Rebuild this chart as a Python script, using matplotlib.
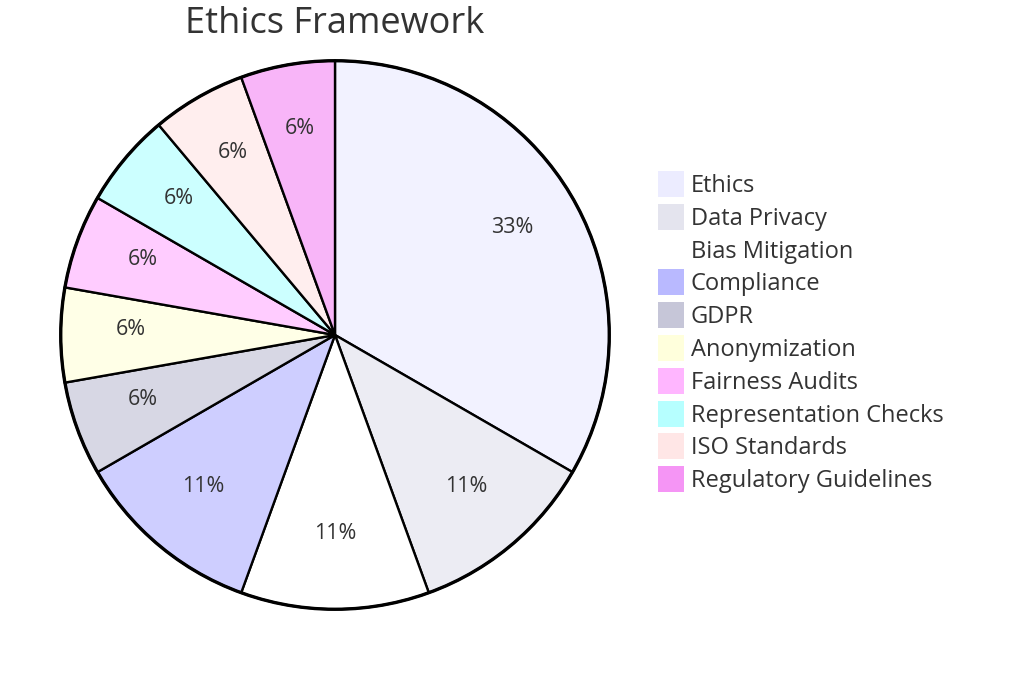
import matplotlib
matplotlib.use("Agg")
import matplotlib.pyplot as plt
from matplotlib.colors import to_rgb
from matplotlib.patches import Rectangle

plt.rcParams["font.family"] = ["Open Sans", "DejaVu Sans"]

# ================= DATA =================
title = "Ethics Framework"
labels = ["Ethics", "Data Privacy", "Bias Mitigation", "Compliance", "GDPR",
          "Anonymization", "Fairness Audits", "Representation Checks",
          "ISO Standards", "Regulatory Guidelines"]
values = [6, 2, 2, 2, 1, 1, 1, 1, 1, 1]
colors = ["#ECECFF", "#E4E4EE", "#FFFFFF", "#B9B9FF", "#C6C6D8",
          "#FFFFDC", "#FFB6FF", "#B6FFFF", "#FFE6E6", "#F595F5"]

# slices are drawn at 0.7 opacity over white
def soften(c, a=0.7):
    r, g, b = to_rgb(c)
    return (1 - a + a * r, 1 - a + a * g, 1 - a + a * b)

slice_colors = [soften(c) for c in colors]

# ================= FIGURE =================
fig = plt.figure(figsize=(10.24, 6.73), dpi=100)
ax = fig.add_axes([58 / 1024, (673 - 612) / 673, 554 / 1024, 554 / 673])

wedges, texts, autotexts = ax.pie(
    values, colors=slice_colors, startangle=90, counterclock=False,
    autopct=lambda p: f"{p:.0f}%", pctdistance=0.745, radius=1,
    wedgeprops=dict(edgecolor="black", linewidth=1.7),
    textprops=dict(fontsize=15.5, color="#333333"),
)
for t in autotexts:
    t.set_va("baseline")
# outer rim
ax.add_patch(plt.Circle((0, 0), 1, fill=False, edgecolor="black", linewidth=2.4))
ax.set_xlim(-1.01, 1.01)
ax.set_ylim(-1.01, 1.01)
ax.set_aspect("equal")
ax.axis("off")

fig.text(335 / 1024, 1 - 24 / 673, title, ha="center", va="center",
         fontsize=26, color="#333333")

# ================= LEGEND =================
x0, y0, step, box = 658, 184, 32.8, 26
for i, (lab, col) in enumerate(zip(labels, colors)):
    yc = y0 + i * step
    fig.patches.append(Rectangle(
        (x0 / 1024, 1 - (yc + box / 2) / 673), box / 1024, box / 673,
        transform=fig.transFigure, facecolor=col, edgecolor="none"))
    fig.text(691 / 1024, 1 - (yc + 2) / 673, lab, ha="left", va="center",
             fontsize=17, color="#333333")

fig.savefig("out.png", dpi=100)
